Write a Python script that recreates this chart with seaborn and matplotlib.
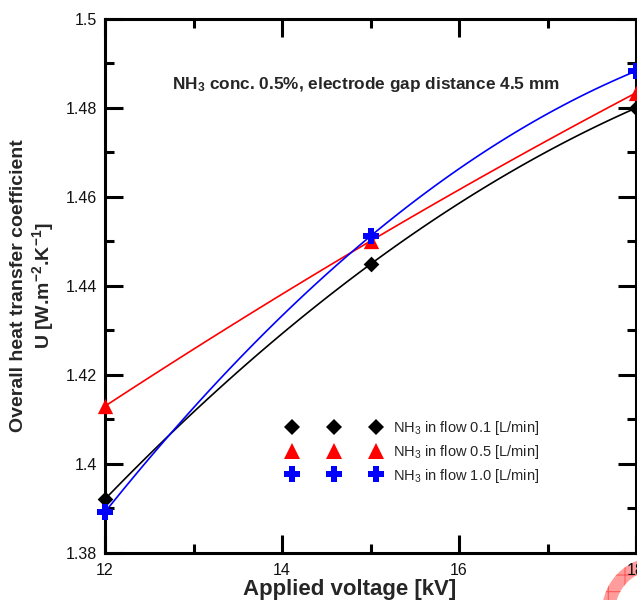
import numpy as np
import pandas as pd
import matplotlib
matplotlib.use("Agg")
import matplotlib.pyplot as plt
import seaborn as sns
from matplotlib.lines import Line2D
from matplotlib.patches import Wedge
from matplotlib.ticker import MultipleLocator, FixedLocator, FixedFormatter

# ---- data ----
voltage = [12, 15, 18]
u_flow_01 = [1.3921, 1.4449, 1.4800]
u_flow_05 = [1.4130, 1.4501, 1.4834]
u_flow_10 = [1.3892, 1.4512, 1.4883]
series_names = ["NH$_3$ in flow 0.1 [L/min]",
                "NH$_3$ in flow 0.5 [L/min]",
                "NH$_3$ in flow 1.0 [L/min]"]
x_ticks = [12, 14, 16, 18]
x_tick_labels = ["12", "14", "16", "18"]
y_ticks = [1.38, 1.40, 1.42, 1.44, 1.46, 1.48, 1.50]
y_tick_labels = ["1.38", "1.4", "1.42", "1.44", "1.46", "1.48", "1.5"]

colors = ["#000000", "#ff0000", "#0000ff"]
markers = ["D", "^", "P"]
msizes = [8.0, 11.0, 11.5]

df = pd.DataFrame({
    "voltage": voltage * 3,
    "U": u_flow_01 + u_flow_05 + u_flow_10,
    "series": [series_names[0]] * 3 + [series_names[1]] * 3 + [series_names[2]] * 3,
})

sns.set_theme(style="ticks")
plt.rcParams["font.family"] = ["Liberation Sans", "DejaVu Sans"]
plt.rcParams["mathtext.default"] = "regular"
plt.rcParams["axes.unicode_minus"] = False
plt.rcParams["hatch.linewidth"] = 0.8

fig = plt.figure(figsize=(6.37, 6.0), dpi=100)
ax = fig.add_axes([105 / 637, 1 - 553 / 600, 531 / 637, 534 / 600])

for name, c, m, ms in zip(series_names, colors, markers, msizes):
    sub = df[df["series"] == name]
    sns.regplot(data=sub, x="voltage", y="U", order=2, ci=None, scatter=False,
                color=c, line_kws=dict(lw=1.2, zorder=2), ax=ax)
    sns.scatterplot(data=sub, x="voltage", y="U", marker=m, color=c, s=ms ** 2,
                    linewidth=0, edgecolor=c, zorder=4, clip_on=False,
                    legend=False, ax=ax)

ax.set_xlim(12, 18)
ax.set_ylim(1.38, 1.50)
ax.xaxis.set_major_locator(FixedLocator(x_ticks))
ax.xaxis.set_major_formatter(FixedFormatter(x_tick_labels))
ax.yaxis.set_major_locator(FixedLocator(y_ticks))
ax.yaxis.set_major_formatter(FixedFormatter(y_tick_labels))
ax.xaxis.set_minor_locator(MultipleLocator(1))
ax.yaxis.set_minor_locator(MultipleLocator(0.01))

for sp in ax.spines.values():
    sp.set_visible(True)
    sp.set_linewidth(2.2)
    sp.set_color("black")
ax.tick_params(which="both", direction="in", top=True, right=True,
               width=2.2, color="black", labelsize=11.5, labelcolor="#111111")
ax.tick_params(which="major", length=13)
ax.tick_params(which="minor", length=6.5)
ax.tick_params(axis="y", pad=6)
ax.tick_params(axis="x", pad=7)

ax.set_xlabel("Applied voltage [kV]", fontsize=16, fontweight="bold")
ax.xaxis.label.set_va("center")
ax.xaxis.set_label_coords((350 - 105) / 531, (553 - 590) / 534)

ax.set_ylabel("Overall heat transfer coefficient\nU [W.m$^{-2}$.K$^{-1}$]",
              fontsize=14, fontweight="bold", linespacing=1.15)
ax.yaxis.label.set_va("center")
ax.yaxis.set_label_coords((33 - 105) / 531, 0.5)

ax.text((366 - 105) / 531, (553 - 85) / 534,
        "NH$_3$ conc. 0.5%, electrode gap distance 4.5 mm",
        transform=ax.transAxes,
        ha="center", va="center", fontsize=12.4, fontweight="bold")

handles = [Line2D([], [], ls="none", marker=m, color=c, markersize=ms,
                  markeredgewidth=0)
           for c, m, ms in zip(colors, markers, msizes)]
leg = ax.legend(handles, series_names, loc="center left",
                bbox_to_anchor=((287.6 - 105) / 531, (553 - 452) / 534),
                frameon=False, numpoints=3, handlelength=6.35,
                handletextpad=0.85, labelspacing=0.38, borderpad=0,
                borderaxespad=0, fontsize=10.5)

ring = Wedge((6.57, -0.12), 0.55, 0, 360, width=0.13,
             transform=fig.dpi_scale_trans, facecolor="#ff9c9c",
             edgecolor="#ff5a5a", hatch="+", linewidth=0, zorder=-1)
fig.add_artist(ring)

fig.savefig("out.png", dpi=100)
